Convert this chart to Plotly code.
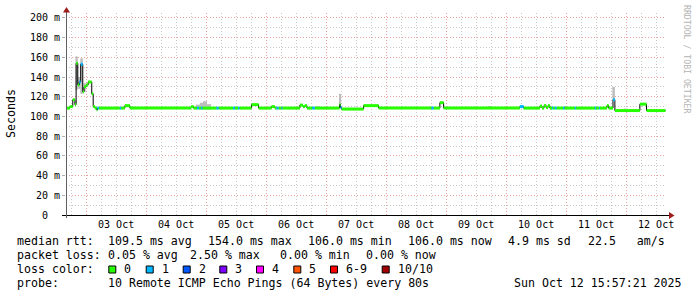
import pandas as pd
import plotly.graph_objects as go

# ---------------- data ----------------
med_time = [
    "2025-10-02 15:57", "2025-10-02 17:30", "2025-10-02 18:40", "2025-10-02 19:30",
    "2025-10-02 20:00", "2025-10-02 20:40", "2025-10-02 21:15", "2025-10-02 21:50",
    "2025-10-02 22:40", "2025-10-02 23:10", "2025-10-03 00:00", "2025-10-03 00:50",
    "2025-10-03 02:15", "2025-10-03 02:50", "2025-10-03 03:30", "2025-10-03 04:15",
    "2025-10-03 04:30", "2025-10-03 05:10", "2025-10-03 13:30", "2025-10-03 14:00",
    "2025-10-03 15:30", "2025-10-03 17:30", "2025-10-04 18:00", "2025-10-04 19:00",
    "2025-10-04 20:20", "2025-10-04 21:10", "2025-10-04 22:00", "2025-10-04 22:30",
    "2025-10-05 04:10", "2025-10-05 05:00", "2025-10-05 10:45", "2025-10-05 11:30",
    "2025-10-05 12:45", "2025-10-05 13:20", "2025-10-05 18:10", "2025-10-05 21:00",
    "2025-10-06 02:10", "2025-10-06 03:30", "2025-10-06 04:10", "2025-10-06 05:00",
    "2025-10-06 06:10", "2025-10-06 06:30", "2025-10-06 13:30", "2025-10-06 14:45",
    "2025-10-06 15:30", "2025-10-06 16:20", "2025-10-06 18:30", "2025-10-06 19:30",
    "2025-10-07 05:20", "2025-10-07 05:45", "2025-10-07 06:10", "2025-10-07 15:00",
    "2025-10-07 21:00", "2025-10-08 18:10", "2025-10-08 19:00", "2025-10-08 21:30",
    "2025-10-08 23:00", "2025-10-10 05:30", "2025-10-10 07:00", "2025-10-10 13:30",
    "2025-10-10 14:20", "2025-10-10 15:10", "2025-10-10 16:00", "2025-10-10 16:45",
    "2025-10-10 17:30", "2025-10-10 18:20", "2025-10-10 18:45", "2025-10-10 19:30",
    "2025-10-10 20:10", "2025-10-10 22:45", "2025-10-10 23:20", "2025-10-11 03:30",
    "2025-10-11 04:00", "2025-10-11 11:30", "2025-10-11 12:00", "2025-10-11 13:10",
    "2025-10-11 13:30", "2025-10-11 16:20", "2025-10-11 17:00", "2025-10-11 18:45",
    "2025-10-11 19:30", "2025-10-12 05:30", "2025-10-12 08:10",
]
med_value = [
    108.5, 110, 117, 112,
    154, 132, 135, 153,
    125, 130, 132, 135,
    123, 110, 108.5, 106.5,
    108.5, 108.5, 108.5, 108.5,
    111, 108.5, 110, 108.5,
    108.5, 108.5, 108.5, 108.5,
    108.5, 108.5, 108.5, 108.5,
    108.5, 108.5, 112, 108.5,
    110, 108.5, 108.5, 108.5,
    108.5, 108.5, 111.5, 110,
    111, 108.5, 108.5, 108.5,
    112, 109, 107.5, 111,
    108.5, 108.5, 108.5, 114,
    108.5, 110, 108.5, 110.5,
    108.5, 111, 109, 111,
    108.5, 108.5, 108.5, 108.5,
    108.5, 108.5, 108.5, 108.5,
    108.5, 108.5, 108.5, 108.5,
    108.5, 111, 108.5, 117,
    106, 112.5, 106,
]
med_loss = [
    0, 0, 0, 0,
    0, 0, 1, 1,
    0, 0, 0, 0,
    0, 0, 0, 0,
    1, 0, 1, 0,
    0, 0, 0, 0,
    1, 0, 1, 0,
    1, 0, 1, 0,
    1, 0, 0, 0,
    0, 0, 1, 0,
    1, 0, 0, 0,
    0, 0, 1, 0,
    0, 1, 0, 0,
    0, 1, 0, 0,
    0, 1, 0, 0,
    0, 0, 0, 0,
    0, 1, 0, 1,
    0, 1, 0, 1,
    0, 1, 0, 1,
    0, 0, 0, 1,
    0, 0, 0,
]
data_end = "2025-10-12 15:45"

smoke_start = ["2025-10-02 19:45", "2025-10-02 20:40", "2025-10-02 21:40", "2025-10-02 23:00",
               "2025-10-04 19:57", "2025-10-04 21:30", "2025-10-04 22:45", "2025-10-05 00:20",
               "2025-10-06 19:57", "2025-10-07 05:10", "2025-10-09 07:30", "2025-10-09 16:45",
               "2025-10-10 23:00", "2025-10-11 18:30", "2025-10-11 23:00"]
smoke_end = ["2025-10-02 20:40", "2025-10-02 21:40", "2025-10-02 22:40", "2025-10-02 23:50",
             "2025-10-04 21:30", "2025-10-04 22:45", "2025-10-05 00:20", "2025-10-05 02:00",
             "2025-10-06 21:30", "2025-10-07 06:00", "2025-10-09 08:20", "2025-10-09 18:20",
             "2025-10-11 00:10", "2025-10-11 19:30", "2025-10-12 00:30"]
smoke_lo = [127, 128, 123, 125, 108, 107, 107, 107, 108, 110, 108, 108, 108, 117, 106]
smoke_hi = [161, 140, 159, 134, 112, 114, 115.5, 112.5, 110.5, 123, 110, 110.5, 110.5, 130, 108]

loss_labels = ["0", "1", "2", "3", "4", "5", "6-9", "10/10"]
loss_colors = ["#26ff00", "#00b8ff", "#0059ff", "#7e00ff", "#ff00ff", "#ff5500", "#ff0000", "#a10000"]

y_ticks = [0, 20, 40, 60, 80, 100, 120, 140, 160, 180, 200]
y_ticktext = ["0\u00a0\u00a0"] + [f"{v} m" for v in y_ticks[1:]]
day_ticks = ["2025-10-03", "2025-10-04", "2025-10-05", "2025-10-06", "2025-10-07",
             "2025-10-08", "2025-10-09", "2025-10-10", "2025-10-11", "2025-10-12"]
day_labels = ["03 Oct", "04 Oct", "05 Oct", "06 Oct", "07 Oct",
              "08 Oct", "09 Oct", "10 Oct", "11 Oct", "12 Oct"]

x_range = ["2025-10-02 15:57:21", "2025-10-12 15:57:21"]

stats_rtt = [("median rtt:", 16), ("109.5 ms avg", 107.3), ("154.0 ms max", 207.3),
             ("106.0 ms min", 307.3), ("106.0 ms now", 406.7), ("4.9 ms sd", 506.7),
             ("22.5\u00a0\u00a0\u00a0am/s", 586.7)]
stats_loss = [("packet loss:", 16), ("0.05 % avg", 107.3), ("2.50 % max", 188.5),
              ("0.00 % min", 279.3), ("0.00 % now", 365.0)]
probe_row = [("probe:", 16), ("10 Remote ICMP Echo Pings (64 Bytes) every 80s", 107.3),
             ("Sun Oct 12 15:57:21 2025", 513.3)]
box_x = [108.3, 145.7, 182.7, 219.3, 256.0, 293.3, 330.0, 381.7]

# ---------------- geometry helpers (pixel -> paper) ----------------
L, R, T, B = 66, 666, 13, 215
W, H = R - L, B - T


def px(x):
    return (x - L) / W


def py(y):
    return (B - y) / H


FONT = "DejaVu Sans Mono"
fig = go.Figure()

# smoke
s0 = pd.to_datetime(smoke_start)
s1 = pd.to_datetime(smoke_end)
fig.add_trace(go.Bar(
    x=s0 + (s1 - s0) / 2, y=[h - l for h, l in zip(smoke_hi, smoke_lo)], base=smoke_lo,
    width=[(b - a).total_seconds() * 1000 for a, b in zip(s0, s1)],
    marker=dict(color="#bdbdbd", line=dict(width=0)), hoverinfo="skip"))

# black median step line
fig.add_trace(go.Scatter(
    x=med_time + [data_end], y=med_value + [med_value[-1]], mode="lines",
    line=dict(color="#000000", width=1, shape="hv"), hoverinfo="skip"))

# loss-coloured median segments
ends = med_time[1:] + [data_end]
for k, col in enumerate(loss_colors):
    xs, ys = [], []
    for t0, t1, v, l in zip(med_time, ends, med_value, med_loss):
        if l == k:
            xs += [t0, t1, None]
            ys += [v, v, None]
    if xs:
        fig.add_trace(go.Scatter(x=xs, y=ys, mode="lines",
                                 line=dict(color=col, width=3), hoverinfo="skip"))

RED = "#e6a0a0"
GREY = "#c8c8c8"
DASH = "1px,2px"

fig.update_layout(
    width=697, height=297, margin=dict(l=L, r=697 - R, t=T, b=297 - B),
    paper_bgcolor="#ffffff", plot_bgcolor="#ffffff", showlegend=False,
    barmode="overlay", font=dict(family=FONT, color="#000000"),
    xaxis=dict(type="date", range=x_range, tickmode="array", tickvals=day_ticks,
               ticktext=day_labels, ticklabelshift=30, ticklabelstandoff=2, ticks="",
               showgrid=True,
               gridcolor=RED, griddash=DASH, gridwidth=1, zeroline=False, showline=False,
               tickfont=dict(family=FONT, size=10, color="#000000"),
               minor=dict(dtick=6 * 3600 * 1000, tick0="2025-10-03", showgrid=True,
                          gridcolor=GREY, griddash=DASH, gridwidth=1)),
    yaxis=dict(range=[0, 205], tickmode="array", tickvals=y_ticks, ticktext=y_ticktext,
               showgrid=True, gridcolor=RED, griddash=DASH, gridwidth=1, zeroline=False,
               showline=False, ticks="outside", ticklen=3, tickcolor="#b0b0b0",
               tickfont=dict(family=FONT, size=10, color="#000000"),
               minor=dict(dtick=10, showgrid=True, gridcolor=GREY, griddash=DASH, gridwidth=1)),
)

shapes = []
# axes
shapes.append(dict(type="line", xref="paper", yref="paper", x0=px(62), x1=px(669),
                   y0=py(215.5), y1=py(215.5), line=dict(color="#000000", width=1), layer="above"))
shapes.append(dict(type="line", xref="paper", yref="paper", x0=px(66.5), x1=px(66.5),
                   y0=py(218), y1=py(12), line=dict(color="#606060", width=1), layer="above"))
ARROW = "#9e1b1b"
shapes.append(dict(type="path", xref="paper", yref="paper",
                   path=f"M {px(63)} {py(12.5)} L {px(70)} {py(12.5)} L {px(66.5)} {py(7)} Z",
                   fillcolor=ARROW, line=dict(color=ARROW, width=0), layer="above"))
shapes.append(dict(type="path", xref="paper", yref="paper",
                   path=f"M {px(669)} {py(212)} L {px(669)} {py(219)} L {px(674.5)} {py(215.5)} Z",
                   fillcolor=ARROW, line=dict(color=ARROW, width=0), layer="above"))
# legend boxes
for bx, col in zip(box_x, loss_colors):
    shapes.append(dict(type="rect", xref="paper", yref="paper",
                       x0=px(bx + 0.5), x1=px(bx + 7.5), y0=py(273), y1=py(266),
                       fillcolor=col, line=dict(color="#000000", width=1), layer="above"))
fig.update_layout(shapes=shapes)

ann = []
TXT = dict(family=FONT, size=11.6, color="#000000")


def add_row(items, ycen):
    for text, x in items:
        ann.append(dict(text=text, x=px(x), y=py(ycen), xref="paper", yref="paper",
                        xanchor="left", yanchor="middle", showarrow=False, font=TXT,
                        borderpad=0))


add_row(stats_rtt, 240.8)
add_row(stats_loss, 254.8)
add_row([("loss color:", 16)] + [(lab, bx + 15) for lab, bx in zip(loss_labels, box_x)], 268.5)
add_row(probe_row, 282.5)

ann.append(dict(text="Seconds", x=px(11), y=py(114), xref="paper", yref="paper",
                xanchor="center", yanchor="middle", textangle=-90, showarrow=False, font=TXT))
ann.append(dict(text="RRDTOOL / TOBI OETIKER", x=px(687), y=py(59), xref="paper", yref="paper",
                xanchor="center", yanchor="middle", textangle=90, showarrow=False,
                font=dict(family=FONT, size=8.2, color="#b4b4b4")))
fig.update_layout(annotations=ann)

fig.write_html("out.html", config={"displayModeBar": False})
